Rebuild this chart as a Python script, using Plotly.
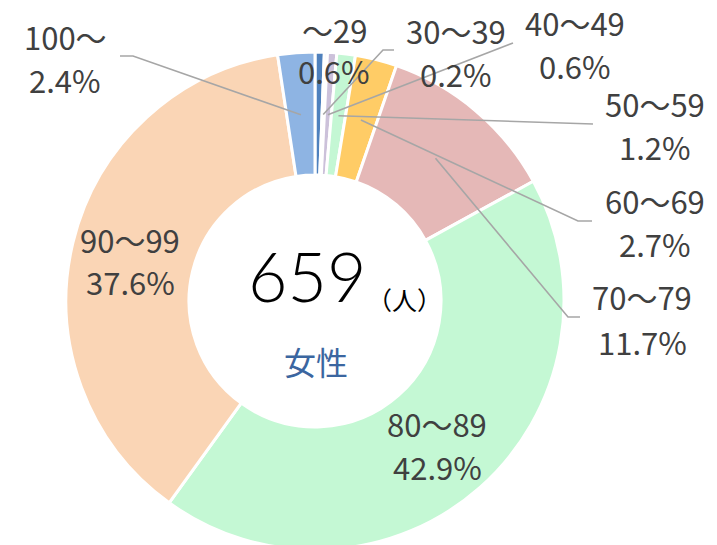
import math
import plotly.graph_objects as go

# ---- data ----
categories = ["～29", "30～39", "40～49", "50～59", "60～69", "70～79", "80～89", "90～99", "100～"]
percentages = [0.6, 0.2, 0.6, 1.2, 2.7, 11.7, 42.9, 37.6, 2.4]
total_people = 659
group_label = "女性"
unit_label = "（人）"

# ---- styles ----
colors = ["#4F81BD", "#C9BFE0", "#CCC1DA", "#C4F7D4", "#FFCC66",
          "#E5B8B7", "#C4F8D4", "#FAD5B5", "#8EB4E3"]
TEXT = "#404040"
LINE = "#A6A6A6"
FONT = "Noto Sans CJK JP"

W, H = 717, 552                      # figure is a touch taller; viewport crops the donut bottom
CX, CY, R = 315, 301, 249            # donut centre / radius in pixels
HOLE = 0.506
ANCHOR_R = 0.75                      # leader-line anchor radius (fraction of R)

# label placement (pixel centres of the two text lines) and leader-line route
label_layout = {
    "～29":   dict(x=334, y1=29,  y2=70,  route=None),
    "30～39": dict(x=456, y1=30,  y2=73,  route=[(383, 50), (394, 50)]),
    "40～49": dict(x=575, y1=23,  y2=66,  route=[(513, 43)]),
    "50～59": dict(x=655, y1=104, y2=147, route=[(593, 124)]),
    "60～69": dict(x=655, y1=201, y2=244, route=[(578, 221), (592, 221)]),
    "70～79": dict(x=642, y1=297, y2=341, route=[(568, 317), (580, 317)]),
    "80～89": dict(x=437, y1=423, y2=466, route=None),
    "90～99": dict(x=130, y1=239, y2=281, route=None),
    "100～":  dict(x=65,  y1=37,  y2=80,  route=[(133, 56), (120, 56)]),
}


def px(x):
    return x / W


def py(y):
    return 1 - y / H


fig = go.Figure(go.Pie(
    labels=categories,
    values=percentages,
    sort=False,
    direction="clockwise",
    rotation=0,
    hole=HOLE,
    textinfo="none",
    hoverinfo="label+percent",
    marker=dict(colors=colors, line=dict(color="white", width=3)),
    domain=dict(x=[(CX - R) / W, (CX + R) / W], y=[(H - CY - R) / H, (H - CY + R) / H]),
    showlegend=False,
))

annotations = []
shapes = []
tot = sum(percentages)
cum = 0.0
for cat, pct in zip(categories, percentages):
    mid = (cum + pct / 2) / tot * 2 * math.pi
    cum += pct
    lay = label_layout[cat]
    annotations.append(dict(x=px(lay["x"]), y=py(lay["y1"]), xref="paper", yref="paper",
                            text=cat, showarrow=False, xanchor="center", yanchor="middle",
                            font=dict(family=FONT, size=31, color=TEXT)))
    annotations.append(dict(x=px(lay["x"]), y=py(lay["y2"]), xref="paper", yref="paper",
                            text=f"{pct:.1f}%", showarrow=False, xanchor="center", yanchor="middle",
                            font=dict(family=FONT, size=31, color=TEXT)))
    if lay["route"]:
        ax = CX + ANCHOR_R * R * math.sin(mid)
        ay = CY - ANCHOR_R * R * math.cos(mid)
        pts = [(ax, ay)] + lay["route"]
        path = "M " + " L ".join(f"{px(x):.5f},{py(y):.5f}" for x, y in pts)
        shapes.append(dict(type="path", path=path, xref="paper", yref="paper",
                           line=dict(color=LINE, width=1.6)))

annotations.append(dict(x=px(367), y=py(275), xref="paper", yref="paper", text=str(total_people),
                        showarrow=False, xanchor="right", yanchor="middle", borderpad=0,
                        font=dict(family="Lato", size=68, color="#000000", weight=300)))
annotations.append(dict(x=px(366), y=py(299), xref="paper", yref="paper", text=unit_label,
                        showarrow=False, xanchor="left", yanchor="middle", borderpad=0,
                        font=dict(family=FONT, size=25, color="#000000")))
annotations.append(dict(x=px(316), y=py(361), xref="paper", yref="paper", text=group_label,
                        showarrow=False, xanchor="center", yanchor="middle",
                        font=dict(family=FONT, size=32, color="#3B66A0")))

fig.update_layout(
    width=W, height=H,
    margin=dict(l=0, r=0, t=0, b=0),
    paper_bgcolor="white",
    plot_bgcolor="white",
    annotations=annotations,
    shapes=shapes,
)

fig.write_html(
    "out.html",
    config={"displayModeBar": False},
    post_script="document.body.style.margin='0';document.body.style.overflow='hidden';",
)
